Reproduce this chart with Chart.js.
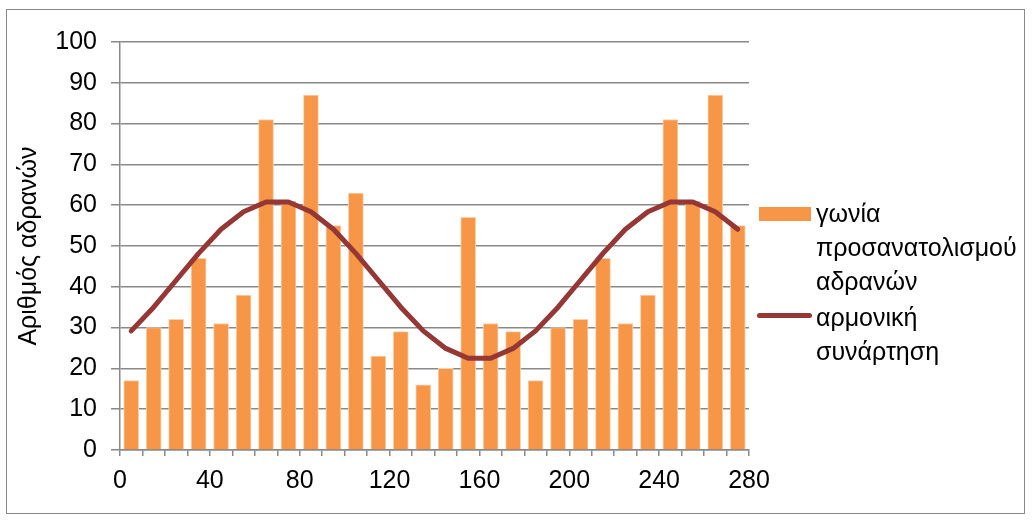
<!DOCTYPE html>
<html>
<head>
<meta charset="utf-8">
<script src="https://cdn.jsdelivr.net/npm/chart.js@4"></script>
<style>
  body { margin: 0; background: #fff; font-family: "Liberation Sans", Arial, sans-serif; }
  #wrap { position: relative; width: 1034px; height: 520px; }
  #frame { position: absolute; left: 6px; top: 9px; width: 1019px; height: 505px; border: 1.5px solid #8a8a8a; box-sizing: border-box; }
  .lg { position: absolute; font-size: 25px; color: #000; line-height: 34px; }
  .sw { position: absolute; }
</style>
</head>
<body>
<div id="wrap">
  <canvas id="myChart" width="1034" height="520"></canvas>
  <div id="frame"></div>
  <div class="sw" style="left:759px;top:207px;width:52px;height:14px;background:#F79646"></div>
  <div class="lg" style="left:816px;top:196px">γωνία<br>προσανατολισμού<br>αδρανών</div>
  <div class="sw" style="left:757px;top:313px;width:55px;height:5px;border-radius:3px;background:#953735"></div>
  <div class="lg" style="left:816px;top:300px">αρμονική<br>συνάρτηση</div>
</div>
<script>
//*************DATA******************* */
const angles = [5, 15, 25, 35, 45, 55, 65, 75, 85, 95, 105, 115, 125, 135, 145, 155, 165, 175, 185, 195, 205, 215, 225, 235, 245, 255, 265, 275];
const grainCounts = [17, 30, 32, 47, 31, 38, 81, 61, 87, 55, 63, 23, 29, 16, 20, 57, 31, 29, 17, 30, 32, 47, 31, 38, 81, 61, 87, 55];
const harmonicFit = [29.2, 35, 41.6, 48.2, 54.1, 58.4, 60.8, 60.8, 58.4, 54.1, 48.2, 41.6, 35, 29.2, 24.9, 22.5, 22.5, 24.9, 29.2, 35, 41.6, 48.2, 54.1, 58.4, 60.8, 60.8, 58.4, 54.1];
const xTickLabels = [0, 40, 80, 120, 160, 200, 240, 280];
const barLabel = "γωνία προσανατολισμού αδρανών";
const lineLabel = "αρμονική συνάρτηση";
const yTitle = "Αριθμός αδρανών";
//********************************************** */

const gridColor = "#898989";
const fontTicks = { family: "'Liberation Sans', Arial, sans-serif", size: 25 };

const data = {
  datasets: [
    {
      type: "line",
      label: lineLabel,
      data: angles.map((a, i) => ({ x: a, y: harmonicFit[i] })),
      borderColor: "#953735",
      borderWidth: 5,
      borderCapStyle: "round",
      borderJoinStyle: "round",
      pointRadius: 0,
      tension: 0,
      fill: false,
      order: 0,
    },
    {
      type: "bar",
      label: barLabel,
      data: angles.map((a, i) => ({ x: a, y: grainCounts[i] })),
      backgroundColor: "#F79646",
      borderColor: "#FAD0AE",
      borderWidth: 1,
      barThickness: 15,
      order: 1,
    },
  ],
};

const config = {
  type: "bar",
  data: data,
  options: {
    responsive: false,
    animation: false,
    layout: { padding: { left: 14, right: 285, top: 42, bottom: 10 } },
    scales: {
      x: {
        type: "linear",
        min: 0,
        max: 280,
        offset: false,
        grid: {
          drawOnChartArea: false,
          drawTicks: true,
          tickLength: 6,
          color: gridColor,
          lineWidth: 1.5,
          offset: false,
        },
        border: { color: gridColor, width: 1.5 },
        ticks: {
          stepSize: 10,
          autoSkip: false,
          maxRotation: 0,
          padding: 10,
          color: "#000",
          font: fontTicks,
          callback: (v) => (xTickLabels.includes(v) ? String(v) : ""),
        },
        afterFit: (scale) => { scale.height = 60; },
      },
      y: {
        min: 0,
        max: 100,
        grid: { color: gridColor, lineWidth: 1.5, tickLength: 9 },
        border: { color: gridColor, width: 1.5 },
        ticks: { stepSize: 10, padding: 14, color: "#000", font: fontTicks },
        title: { display: true, text: yTitle, color: "#000", font: fontTicks, padding: { top: 0, bottom: 0 } },
        afterFit: (scale) => { scale.width = 106; },
      },
    },
    plugins: {
      legend: { display: false },
      tooltip: { enabled: false },
    },
  },
};

const myChart = new Chart(document.getElementById("myChart"), config);
</script>
</body>
</html>
